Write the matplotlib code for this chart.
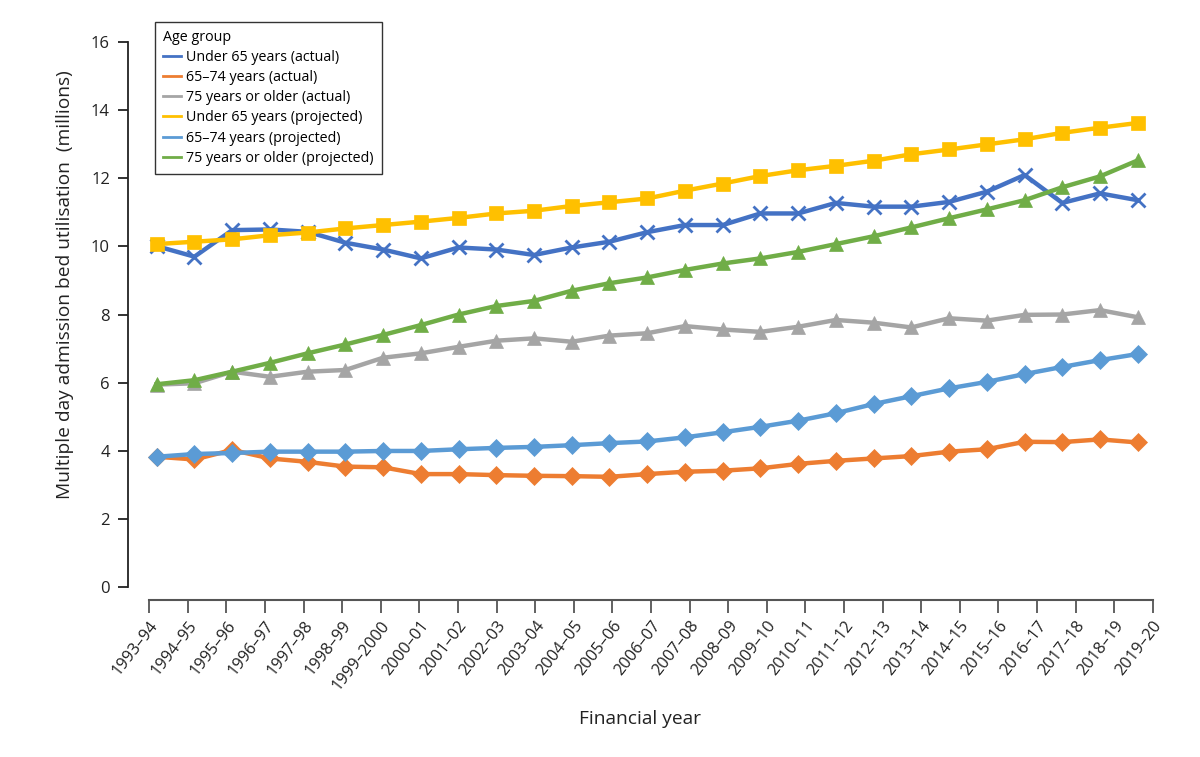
import numpy as np
import matplotlib
matplotlib.use("Agg")
from matplotlib import pyplot as plt
from matplotlib.lines import Line2D

# financial years on the x axis
years = ["1993–94", "1994–95", "1995–96", "1996–97", "1997–98", "1998–99",
         "1999–2000", "2000–01", "2001–02", "2002–03", "2003–04", "2004–05",
         "2005–06", "2006–07", "2007–08", "2008–09", "2009–10", "2010–11",
         "2011–12", "2012–13", "2013–14", "2014–15", "2015–16", "2016–17",
         "2017–18", "2018–19", "2019–20"]

# bed utilisation (millions)
under65_actual = [10.01, 9.70, 10.48, 10.50, 10.43, 10.11, 9.91, 9.65, 9.97, 9.91,
                  9.75, 9.97, 10.14, 10.42, 10.63, 10.63, 10.97, 10.97, 11.28, 11.17,
                  11.17, 11.31, 11.61, 12.10, 11.28, 11.56, 11.36]
age65_74_actual = [3.82, 3.74, 4.02, 3.77, 3.67, 3.53, 3.51, 3.31, 3.31, 3.28,
                   3.26, 3.25, 3.23, 3.31, 3.38, 3.41, 3.48, 3.61, 3.70, 3.77,
                   3.84, 3.97, 4.04, 4.26, 4.25, 4.33, 4.24]
over75_actual = [5.94, 5.98, 6.32, 6.17, 6.32, 6.37, 6.73, 6.86, 7.05, 7.23,
                 7.30, 7.20, 7.38, 7.45, 7.66, 7.56, 7.49, 7.64, 7.84, 7.76,
                 7.62, 7.89, 7.82, 7.99, 8.00, 8.13, 7.92]
under65_proj = [10.07, 10.14, 10.21, 10.33, 10.41, 10.53, 10.63, 10.73, 10.84, 10.97,
                11.05, 11.19, 11.30, 11.41, 11.64, 11.85, 12.07, 12.24, 12.37, 12.52,
                12.71, 12.85, 13.00, 13.15, 13.34, 13.49, 13.63]
age65_74_proj = [3.82, 3.90, 3.93, 3.97, 3.97, 3.97, 3.99, 3.99, 4.04, 4.08,
                 4.11, 4.16, 4.22, 4.27, 4.39, 4.54, 4.70, 4.88, 5.10, 5.37,
                 5.60, 5.83, 6.02, 6.25, 6.46, 6.66, 6.84]
over75_proj = [5.95, 6.07, 6.32, 6.58, 6.86, 7.12, 7.40, 7.69, 8.00, 8.25,
               8.40, 8.70, 8.92, 9.09, 9.31, 9.50, 9.65, 9.84, 10.07, 10.30,
               10.56, 10.83, 11.09, 11.36, 11.74, 12.06, 12.53]

plt.rcParams['font.family'] = ['Open Sans', 'DejaVu Sans']

fig = plt.figure(figsize=(12, 7.57), dpi=100)
ax = fig.add_axes([0.1067, 0.2074, 0.854, 0.7367])

x = np.arange(len(years))

# actual series first, projected drawn on top
series = [
    (under65_actual, "Under 65 years (actual)", "#4472C4", "x", 10, 2.0),
    (age65_74_actual, "65–74 years (actual)", "#ED7D31", "D", 9, 0.5),
    (over75_actual, "75 years or older (actual)", "#A5A5A5", "^", 10, 0.5),
    (under65_proj, "Under 65 years (projected)", "#FFC000", "s", 10.5, 0.5),
    (age65_74_proj, "65–74 years (projected)", "#5B9BD5", "D", 9, 0.5),
    (over75_proj, "75 years or older (projected)", "#70AD47", "^", 10, 0.5),
]
for vals, lab, col, mk, ms, mew in series:
    ax.plot(x, vals, color=col, lw=3.2, marker=mk, markersize=ms,
            markeredgewidth=mew, markeredgecolor=col,
            label=lab, solid_joinstyle='round')

ax.set_xlim(-0.76, 26.4)
ax.set_ylim(-0.39, 16)

for s in ['top', 'right']:
    ax.spines[s].set_visible(False)
ax.spines['left'].set_bounds(0, 16)
ax.spines['bottom'].set_bounds(-0.2, 26.4)
ax.spines['left'].set_color('#222222')
ax.spines['bottom'].set_color('#555555')
ax.spines['left'].set_linewidth(1.3)
ax.spines['bottom'].set_linewidth(1.5)

ax.set_yticks(range(0, 17, 2))
ax.tick_params(axis='y', length=7, width=1.3, color='#222222', labelsize=12,
               pad=6, labelcolor='#222222')
# the printed axis is stretched a little wider than the plotted points
ax.set_xticks(np.linspace(-0.2, 26.4, len(years)))
ax.set_xticklabels(years, rotation=52, ha='right', rotation_mode='anchor')
ax.tick_params(axis='x', length=9, width=1.3, color='#555555', labelsize=11.8,
               pad=4, labelcolor='#222222')

ax.set_ylabel("Multiple day admission bed utilisation  (millions)", fontsize=13.8,
              color='#222222')
ax.yaxis.set_label_coords(-0.053, 0.565)
ax.set_xlabel("Financial year", fontsize=13.8, color='#222222', labelpad=12)

handles, labels = ax.get_legend_handles_labels()
proxies = [Line2D([], [], color=h.get_color(), lw=2) for h in handles]
leg = ax.legend(proxies, labels, title="Age group", loc='upper left',
                bbox_to_anchor=(155 / 1200, 1 - 22 / 757),
                bbox_transform=fig.transFigure, borderaxespad=0,
                fontsize=10.3, title_fontsize=10.3, frameon=True, fancybox=False,
                handlelength=1.3, handletextpad=0.35, labelspacing=0.36,
                borderpad=0.55, alignment='left')
leg.get_frame().set_edgecolor('black')
leg.get_frame().set_linewidth(1.0)

fig.savefig("out.png", dpi=100)
